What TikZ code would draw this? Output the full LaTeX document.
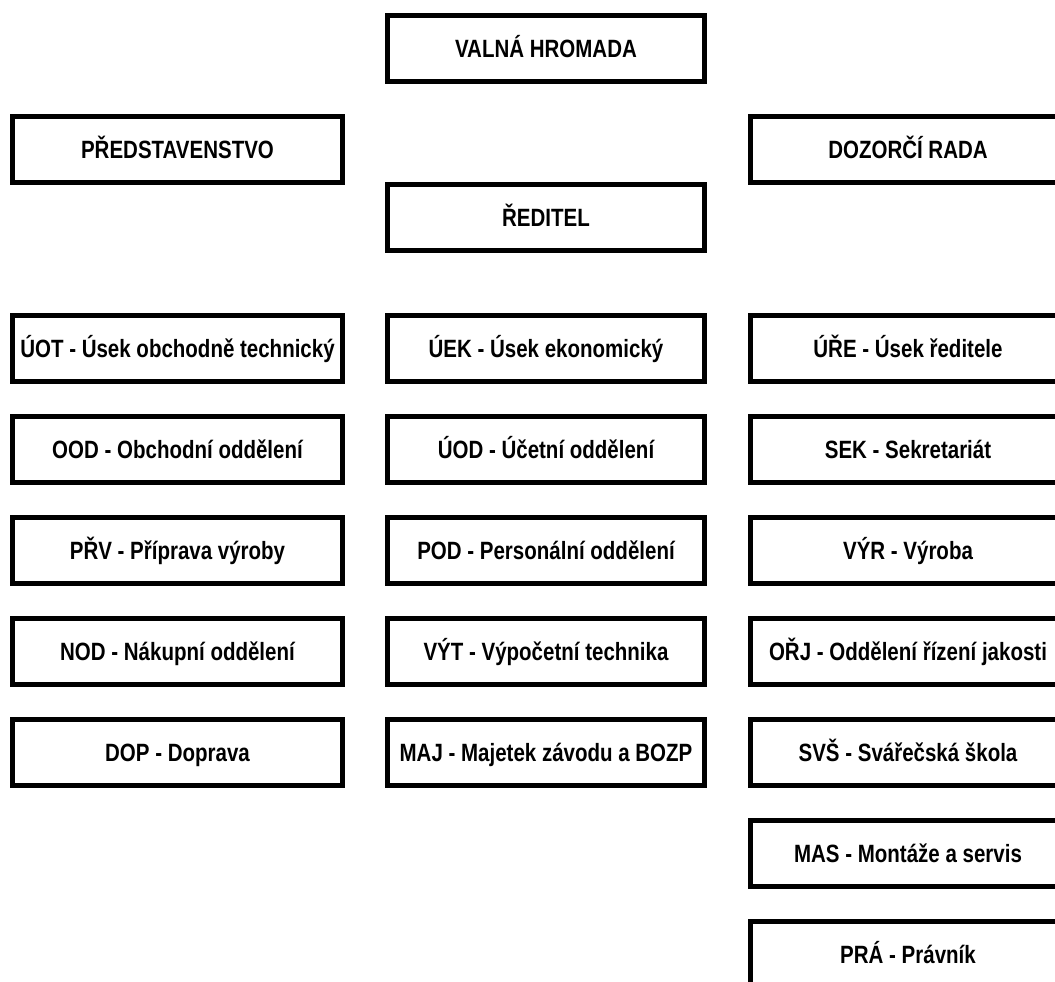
\documentclass[tikz,border=0pt]{standalone}
\usepackage{fontspec}
\setmainfont{Liberation Sans}[FakeStretch=0.82]
\begin{document}
\begin{tikzpicture}[x=1pt,y=-1pt,
  orgbox/.style={draw=black, line width=5pt, fill=white, inner sep=0pt,
    minimum height=66pt, text height=18pt, text depth=0pt,
    font=\fontsize{25pt}{28pt}\selectfont\bfseries},
  colL/.style={orgbox, minimum width=330pt},
  colM/.style={orgbox, minimum width=317pt},
  colR/.style={orgbox, minimum width=315pt}]
\useasboundingbox (0,0) rectangle (1055,982);
\clip (0,0) rectangle (1055,982);
\node[colM] (vh) at (546,48.5) {VALNÁ HROMADA};
\node[colL] (pr) at (177.5,149.5) {PŘEDSTAVENSTVO};
\node[colR] (dr) at (908,149.5) {DOZORČÍ RADA};
\node[colM] (re) at (546,217.5) {ŘEDITEL};
% left column
\node[colL] (uot) at (177.5,348.5) {ÚOT - Úsek obchodně technický};
\node[colL] (ood) at (177.5,449.5) {OOD - Obchodní oddělení};
\node[colL] (prv) at (177.5,550.5) {PŘV - Příprava výroby};
\node[colL] (nod) at (177.5,651.5) {NOD - Nákupní oddělení};
\node[colL] (dop) at (177.5,752.5) {DOP - Doprava};
% middle column
\node[colM] (uek) at (546,348.5) {ÚEK - Úsek ekonomický};
\node[colM] (uod) at (546,449.5) {ÚOD - Účetní oddělení};
\node[colM] (pod) at (546,550.5) {POD - Personální oddělení};
\node[colM] (vyt) at (546,651.5) {VÝT - Výpočetní technika};
\node[colM] (maj) at (546,752.5) {MAJ - Majetek závodu a BOZP};
% right column
\node[colR] (ure) at (908,348.5) {ÚŘE - Úsek ředitele};
\node[colR] (sek) at (908,449.5) {SEK - Sekretariát};
\node[colR] (vyr) at (908,550.5) {VÝR - Výroba};
\node[colR] (orj) at (908,651.5) {OŘJ - Oddělení řízení jakosti};
\node[colR] (svs) at (908,752.5) {SVŠ - Svářečská škola};
\node[colR] (mas) at (908,853.5) {MAS - Montáže a servis};
\node[colR] (pra) at (908,954.5) {PRÁ - Právník};
\end{tikzpicture}
\end{document}
